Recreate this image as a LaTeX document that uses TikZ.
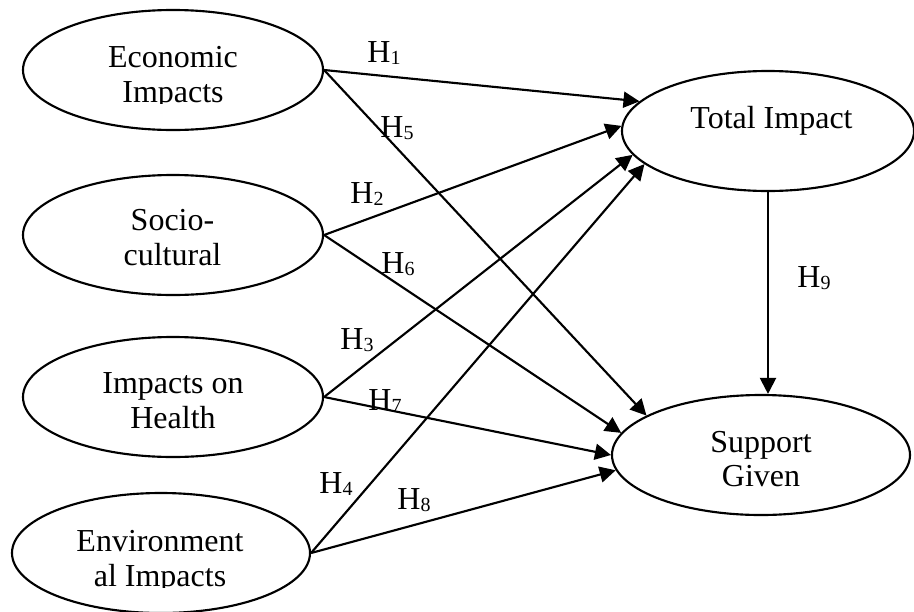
\documentclass[tikz,border=0pt]{standalone}
\usepackage{fontspec}
\setmainfont{Liberation Serif}
\usetikzlibrary{arrows.meta,shapes.geometric}
\newcommand{\hyp}[1]{H\raisebox{-1.8pt}{\fontsize{15}{15}\selectfont #1}}

\begin{document}
\begin{tikzpicture}[x=0.75pt, y=-0.75pt,
    every node/.style={font=\fontsize{24}{26}\selectfont},
    construct/.style={draw, ellipse, line width=1.6pt, minimum width=225pt, minimum height=90pt, inner sep=0pt},
    ctext/.style={align=center, inner sep=0pt},
    link/.style={line width=1.6pt, -{Triangle[length=12pt,width=12pt]}},
    hlab/.style={inner sep=0pt}
  ]
    % feste Bildgroesse
    \useasboundingbox (0,0) rectangle (914,611);

    % Konstrukte links
    \node[construct] (econ)   at (173,70)  {};
    \node[construct] (socio)  at (173,235) {};
    \node[construct] (health) at (173,397) {};
    \node[construct, minimum width=223.5pt] (env) at (161,553) {};

    % Konstrukte rechts
    \node[construct, minimum width=219pt]   (total)   at (768,131) {};
    \node[construct, minimum width=223.5pt] (support) at (761,455) {};

    % Beschriftungen (zwei Textfelder unten abgeschnitten wie im Original)
    \begin{scope}
      \clip (0,0) rectangle (914,103);
      \node[ctext] (econ-t) at (173,77.5) {Economic\\Impacts};
    \end{scope}
    \node[ctext] (socio-t)  at (172.5,237.5) {Socio-\\cultural};
    \node[ctext] (health-t) at (173,401) {Impacts on\\Health};
    \begin{scope}
      \clip (0,0) rectangle (914,587);
      \node[ctext] (env-t) at (160,561.5) {Environment\\al Impacts};
    \end{scope}
    \node[ctext] (total-t)   at (771.5,120.5) {Total Impact};
    \node[ctext] (support-t) at (761,459) {Support\\Given};

    % Pfade
    \draw[link] (econ.east)   -- (total.167);   % H1
    \draw[link] (socio.east)  -- (total.178);   % H2
    \draw[link] (health.east) -- (total.190);   % H3
    \draw[link] (env.east)    -- (total.195);   % H4
    \draw[link] (econ.east)   -- (support.161); % H5
    \draw[link] (socio.east)  -- (support.171); % H6
    \draw[link] (health.east) -- (support.180); % H7
    \draw[link] (env.east)    -- (support.186); % H8
    \draw[link] (total.south) -- (total.south |- support.north); % H9

    % Hypothesen
    \node[hlab] (h1) at (384,53)  {\hyp{1}};
    \node[hlab] (h2) at (367,194) {\hyp{2}};
    \node[hlab] (h3) at (357,340) {\hyp{3}};
    \node[hlab] (h4) at (336,484) {\hyp{4}};
    \node[hlab] (h5) at (397,128) {\hyp{5}};
    \node[hlab] (h6) at (398,264) {\hyp{6}};
    \node[hlab] (h7) at (385,401) {\hyp{7}};
    \node[hlab] (h8) at (414,500) {\hyp{8}};
    \node[hlab] (h9) at (814,278) {\hyp{9}};
\end{tikzpicture}
\end{document}
